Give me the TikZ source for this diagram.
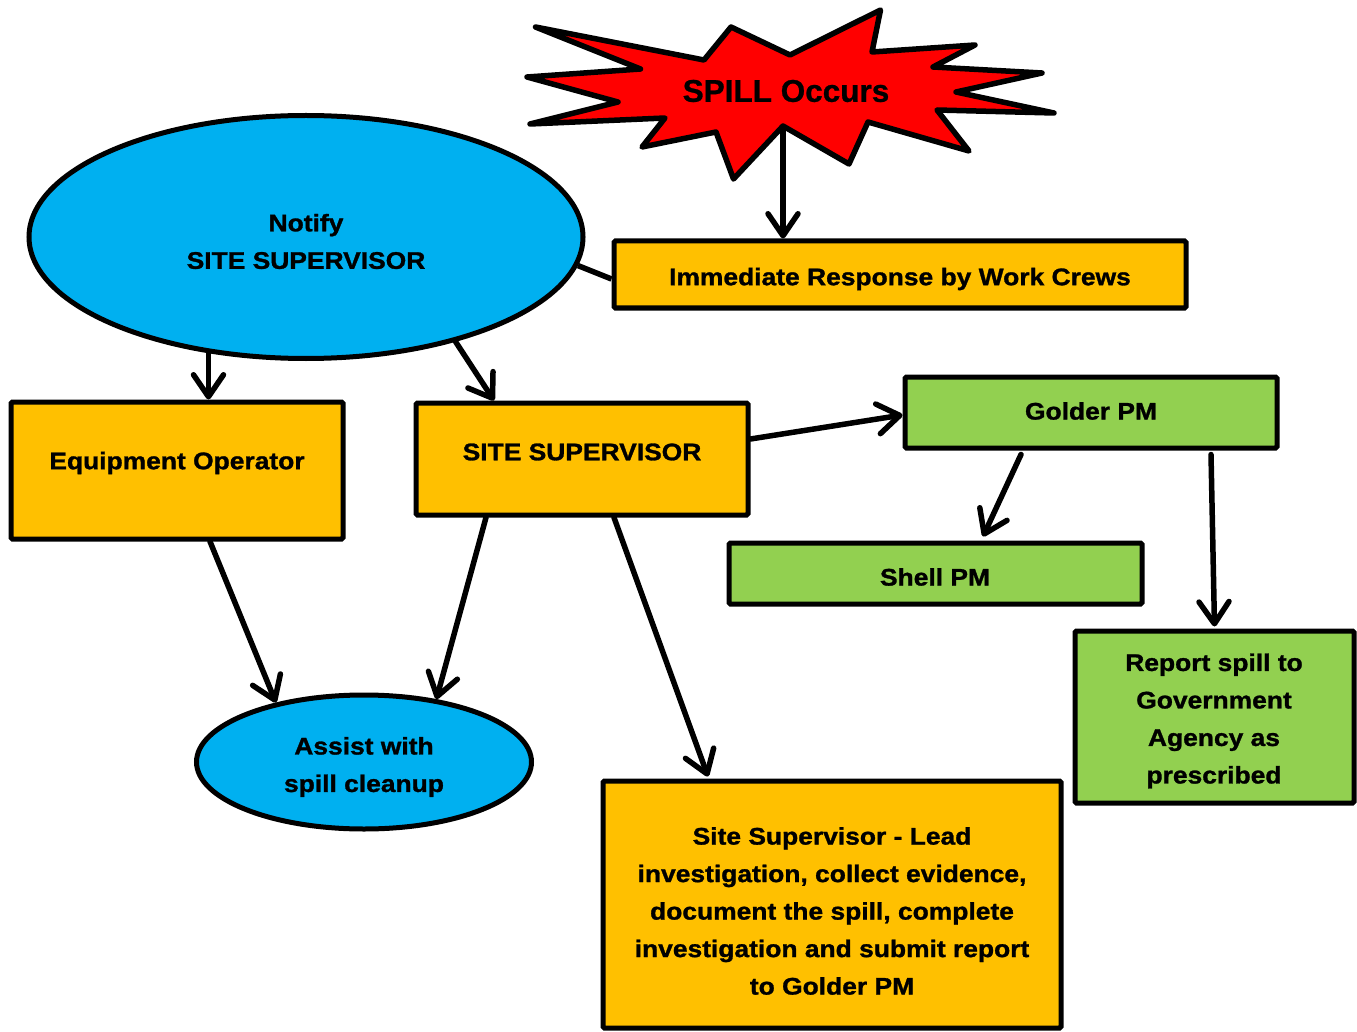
\documentclass[tikz,border=0pt]{standalone}
\usepackage{fontspec}
\setmainfont{Liberation Sans}[BoldFeatures={FakeBold=0.8}]
\newfontfamily\lab{Liberation Sans}[FakeStretch=1.1,BoldFeatures={FakeBold=1.2}]
\usetikzlibrary{arrows.meta,calc,shapes.geometric}
\definecolor{cblue}{HTML}{00B0F0}
\definecolor{corange}{HTML}{FFC000}
\definecolor{cgreen}{HTML}{92D050}
\definecolor{cred}{HTML}{FF0000}
\tikzset{
  box/.style={draw=black,line width=5pt,rounded corners=1.5pt,rectangle,inner sep=0pt},
  obox/.style={box,fill=corange},
  gbox/.style={box,fill=cgreen},
  oval/.style={draw=black,line width=5pt,ellipse,fill=cblue,inner sep=0pt},
  txt/.style={align=center,inner sep=0pt,font=\lab\bfseries\fontsize{24}{37.5}\selectfont},
  arr/.style={line width=5.5pt,line cap=round,-{Straight Barb[length=22pt,width=30pt,round]}},
  link/.style={line width=5.5pt}
}
\begin{document}
\begin{tikzpicture}[x=1pt,y=-1pt]
\useasboundingbox (0,0) rectangle (1357,1032);
% starburst
\draw[line width=5.5pt,line join=round,fill=cred]
  (535.5,27) -- (704,60) -- (731,27) -- (790,55) -- (880.5,10) -- (872,52) -- (975,45)
  -- (933,67) -- (1042,73) -- (956,92) -- (1054,113) -- (937,110) -- (969,151)
  -- (868,122) -- (849,164) -- (783,126) -- (733.5,179) -- (716,132) -- (642,147)
  -- (665,118) -- (530,124) -- (618,102) -- (527,77) -- (640.5,69) -- cycle;
\node[inner sep=0pt,font=\bfseries\fontsize{31.5}{36}\selectfont] (spill) at (786,91) {SPILL Occurs};
\coordinate (starb) at (783,127);

% nodes
\node[oval,minimum width=554pt,minimum height=243pt] (notify) at (306,237) {};
\node[txt] (notifyT) at (306,241.5) {Notify\\SITE SUPERVISOR};

\node[obox,minimum width=572pt,minimum height=67pt] (imm) at (900,274.5) {};
\node[txt] (immT) at (900,279) {Immediate Response by Work Crews};

\node[obox,minimum width=332pt,minimum height=137pt] (eq) at (177,470.5) {};
\node[txt] (eqT) at (177,463) {Equipment Operator};

\node[obox,minimum width=332pt,minimum height=112pt] (ss) at (582,459) {};
\node[txt] (ssT) at (582,452) {SITE SUPERVISOR};

\node[gbox,minimum width=372pt,minimum height=71pt] (gold) at (1091,412.5) {};
\node[txt] (goldT) at (1091,411) {Golder PM};

\node[gbox,minimum width=413pt,minimum height=61pt] (shell) at (935.5,573.5) {};
\node[txt] (shellT) at (935,577) {Shell PM};

\node[gbox,minimum width=279pt,minimum height=172pt] (rep) at (1214.5,717) {};
\node[txt] (repT) at (1214,721) {Report spill to\\Government\\Agency as\\prescribed};

\node[oval,minimum width=335pt,minimum height=134pt] (assist) at (364,762) {};
\node[txt] (assistT) at (364,767) {Assist with\\spill cleanup};

\node[obox,minimum width=458pt,minimum height=247pt] (inv) at (832,904.5) {};
\node[txt] (invT) at (832,911) {Site Supervisor - Lead\\investigation, collect evidence,\\document the spill, complete\\investigation and submit report\\to Golder PM};

% connectors
\draw[arr] (starb) -- (starb |- imm.north);
\draw[link] (notify.-6.5) -- ($(imm.west)+(0,4.5)$);
\draw[arr] (notify.-130) -- (notify.-130 |- eq.north);
\draw[arr] (notify.-35) -- ($(ss.north)+(-88,0)$);
\draw[arr] ($(ss.east)+(0,-20)$) -- ($(gold.west)+(0,2.5)$);
\draw[arr] ($(gold.south)+(-70,4)$) -- ($(shell.north)+(47.5,-4)$);
\draw[arr] ($(gold.south)+(120,4)$) -- ($(rep.north)+(0,-2)$);
\draw[arr] ($(eq.south)+(33,0)$) -- (assist.146);
\draw[arr] ($(ss.south)+(-96,0)$) -- (assist.41);
\draw[arr] ($(ss.south)+(32,0)$) -- ($(inv.north)+(-124,-2)$);
\end{tikzpicture}
\end{document}
